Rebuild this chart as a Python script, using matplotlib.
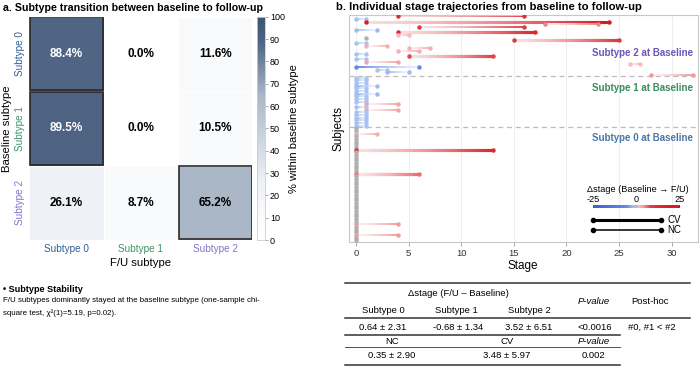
import numpy as np
import matplotlib
matplotlib.use('Agg')
import matplotlib.pyplot as plt
from matplotlib.colors import LinearSegmentedColormap, Normalize
from matplotlib.collections import LineCollection
from matplotlib.lines import Line2D
from matplotlib.patches import Rectangle
import matplotlib.colorbar as mcolorbar

plt.rcParams['font.family'] = ['Liberation Sans', 'DejaVu Sans']
plt.rcParams['axes.unicode_minus'] = False

# ---------------- data ----------------
subtype_labels = ['Subtype 0', 'Subtype 1', 'Subtype 2']
transition_pct = [[88.4, 0.0, 11.6],
                  [89.5, 0.0, 10.5],
                  [26.1, 8.7, 65.2]]
dominant_cells = [(0, 0), (1, 0), (2, 2)]   # (row, col)

# subjects with baseline subtype 2 (top block)
s2_base = [4, 1, 1, 18, 6, 2, 4, 4, 1, 15, 1, 1, 5, 4, 1, 5, 1, 1, 26, 6, 3, 5, 28]
s2_fu   = [16, 0, 24, 23, 16, 0, 17, 5, 1, 25, 0, 3, 7, 6, 0, 13, 0, 4, 27, 0, 2, 3, 32]
s2_grp  = ['NC', 'NC', 'CV', 'NC', 'NC', 'NC', 'CV', 'NC', 'NC', 'CV', 'NC', 'NC',
           'NC', 'NC', 'NC', 'CV', 'NC', 'NC', 'NC', 'NC', 'NC', 'NC', 'NC']
# subjects with baseline subtype 1
s1_base = [1, 1, 1, 2, 1, 1, 2, 1, 1, 1, 1, 1, 1, 1, 1, 1, 1, 1, 1]
s1_fu   = [0, 0, 0, 0, 0, 0, 0, 0, 0, 0, 4, 0, 4, 0, 0, 0, 0, 0, 0]
s1_grp  = ['NC'] * 19
# subjects with baseline subtype 0
s0_base = [0] * 43
s0_fu   = [0, 0, 2, 0, 0, 0, 0, 0, 13, 0, 0, 0, 0, 0, 0, 0, 0, 6, 0, 0,
           0, 0, 0, 0, 0, 0, 0, 0, 0, 0, 0, 0, 0, 0, 0, 0, 4, 0, 0, 0,
           4, 0, 0]
s0_grp  = ['NC'] * 8 + ['CV'] + ['NC'] * 8 + ['CV'] + ['NC'] * 25

stage_ticks = [0, 5, 10, 15, 20, 25, 30]

table_head = ['Subtype 0', 'Subtype 1', 'Subtype 2']
table_vals = ['0.64 ± 2.31', '-0.68 ± 1.34', '3.52 ± 6.51', '<0.0016', '#0, #1 < #2']
table2_head = ['NC', 'CV']
table2_vals = ['0.35 ± 2.90', '3.48 ± 5.97', '0.002']

# ---------------- figure ----------------
W, H = 700, 376
fig = plt.figure(figsize=(7, 3.76), dpi=100)


def fx(x):
    return x / W


def fy(y):
    return 1 - y / H


def add_axes_px(x0, y0, x1, y1):
    return fig.add_axes([fx(x0), fy(y1), fx(x1) - fx(x0), fy(y0) - fy(y1)])


sub_colors = ['#2f5f9a', '#3c9467', '#8672c9']

# ---------------- panel a ----------------
heat_cmap = LinearSegmentedColormap.from_list(
    'heat', [(0.0, '#ffffff'), (0.26, '#eef1f5'), (0.65, '#a9b7c7'),
             (0.884, '#4f6583'), (1.0, '#3c5272')])
ax_a = add_axes_px(29.3, 16.7, 252.3, 240)
vals = np.array(transition_pct)
mesh = ax_a.pcolormesh(np.arange(4), np.arange(4), vals, cmap=heat_cmap,
                       vmin=0, vmax=100, edgecolors='white', linewidth=0.6)
ax_a.set_xlim(0, 3)
ax_a.set_ylim(3, 0)
for i in range(3):
    for j in range(3):
        v = vals[i, j]
        ax_a.text(j + 0.5, i + 0.5, f'{v:.1f}%', ha='center', va='center',
                  fontsize=8.5, fontweight='bold',
                  color='white' if v > 70 else 'black')
for (r, c) in dominant_cells:
    ax_a.add_patch(Rectangle((c + 0.01, r + 0.01), 0.98, 0.98, fill=False,
                             ec='#2a2a2a', lw=1.2, zorder=5))
for s in ax_a.spines.values():
    s.set_visible(False)
ax_a.set_xticks([0.5, 1.5, 2.5])
ax_a.set_xticklabels(subtype_labels, fontsize=7.2)
ax_a.set_yticks([0.5, 1.5, 2.5])
ax_a.set_yticklabels(subtype_labels, fontsize=7.2, rotation=90, va='center')
for t, c in zip(ax_a.get_xticklabels(), sub_colors):
    t.set_color(c)
for t, c in zip(ax_a.get_yticklabels(), sub_colors):
    t.set_color(c)
ax_a.tick_params(length=0, pad=3)
ax_a.set_xlabel('F/U subtype', fontsize=8.2, labelpad=3)
ax_a.set_ylabel('Baseline subtype', fontsize=8.2, labelpad=2)

cax = add_axes_px(256.7, 16.7, 265, 240)
cb = fig.colorbar(mesh, cax=cax, ticks=range(0, 101, 10))
cb.outline.set_edgecolor('#cccccc')
cb.outline.set_linewidth(0.6)
cax.tick_params(labelsize=6.5, length=2, width=0.5, color='#888888', pad=1.5)
cb.set_label('% within baseline subtype', fontsize=8, labelpad=3)

fig.text(fx(3), fy(8), 'a. Subtype transition between baseline to follow-up',
         fontsize=7.7, fontweight='bold', ha='left', va='center')

fig.text(fx(3), fy(290), '• Subtype Stability', fontsize=6.6, fontweight='bold',
         ha='left', va='center')
fig.text(fx(3), fy(301), 'F/U subtypes dominantly stayed at the baseline subtype (one-sample chi-',
         fontsize=5.65, ha='left', va='center')
fig.text(fx(3), fy(313), 'square test, χ²(1)=5.19, p=0.02).',
         fontsize=5.65, ha='left', va='center')

# ---------------- panel b ----------------
delta_cmap = LinearSegmentedColormap.from_list(
    'delta', [(0.0, '#3a5fd4'), (0.38, '#5f8ae6'), (0.46, '#9dbcf2'),
              (0.48, '#a8c4f3'), (0.5, '#b5b5b5'), (0.52, '#f7bcc0'),
              (0.58, '#f29aa0'), (0.62, '#ec6d74'), (0.66, '#e2434b'),
              (0.76, '#dc2830'), (1.0, '#d41820')])
dnorm = Normalize(vmin=-25, vmax=25)

ax_b = add_axes_px(348.5, 15, 698, 241.7)
base_all = s2_base + s1_base + s0_base
fu_all = s2_fu + s1_fu + s0_fu
grp_all = s2_grp + s1_grp + s0_grp
rows = np.arange(len(base_all))

white = np.array([1.0, 1.0, 1.0])
for y, b, f, g in zip(rows, base_all, fu_all, grp_all):
    d = f - b
    col = np.array(delta_cmap(dnorm(d)))
    if d == 0:
        ax_b.plot([b], [y], 'o', ms=3.2, color='#b0b0b0', mec='none', zorder=3)
        continue
    n = 60
    xs = np.linspace(b, f, n + 1)
    segs = [[(xs[k], y), (xs[k + 1], y)] for k in range(n)]
    t = np.linspace(0, 1, n)
    a = 0.15 + 0.85 * t ** 1.4
    rgb = white[None, :] * (1 - a[:, None]) + col[None, :3] * a[:, None]
    rgba = np.column_stack([rgb, np.ones(n)])
    lw = 2.2 if g == 'CV' else 1.1
    ax_b.add_collection(LineCollection(segs, colors=rgba, linewidths=lw,
                                       capstyle='projecting', zorder=2))
    ax_b.plot([b, f], [y, y], 'o', ms=3.2, color=col, mec='none', zorder=3)

n2, n1 = len(s2_base), len(s1_base)
ax_b.axhline(n2 - 0.5, ls=(0, (4, 3)), color='#bbbbbb', lw=0.9, zorder=1)
ax_b.axhline(n2 + n1 - 0.5, ls=(0, (4, 3)), color='#bbbbbb', lw=0.9, zorder=1)

ax_b.set_xlim(-0.7, 32.5)
ax_b.set_ylim(len(base_all) - 0.5, -0.5)
ax_b.set_xticks(stage_ticks)
ax_b.tick_params(axis='x', labelsize=6.8, length=3, width=0.6, color='#999999',
                 pad=2, labelcolor='#333333')
ax_b.set_yticks([])
ax_b.grid(axis='x', color='#ececec', lw=0.6, zorder=0)
ax_b.set_axisbelow(True)
for s in ax_b.spines.values():
    s.set_color('#c8c8c8')
    s.set_linewidth(0.8)
ax_b.set_xlabel('Stage', fontsize=8.5, labelpad=2)
ax_b.set_ylabel('Subjects', fontsize=8.5, labelpad=3)

ann_colors = ['#6c55b8', '#3a8c62', '#4a78a8']
ann_y = [13.7, 26.8, 45.6]
for txt, c, yy in zip(['Subtype 2 at Baseline', 'Subtype 1 at Baseline',
                       'Subtype 0 at Baseline'], ann_colors, ann_y):
    ax_b.text(0.986, yy, txt, transform=ax_b.get_yaxis_transform(),
              ha='right', va='center', fontsize=7, fontweight='bold', color=c)

fig.text(fx(638), fy(190), 'Δstage (Baseline → F/U)', ha='center', va='center',
         fontsize=6.6)
cax2 = add_axes_px(593, 205.3, 680, 207.8)
cb2 = mcolorbar.ColorbarBase(cax2, cmap=delta_cmap, norm=dnorm,
                             orientation='horizontal', ticks=[-25, 0, 25])
cb2.outline.set_visible(False)
cax2.xaxis.set_ticks_position('top')
cax2.tick_params(length=0, labelsize=6.6, pad=1)

for yy, lw, lab in [(220, 2.2, 'CV'), (230, 1.1, 'NC')]:
    fig.add_artist(Line2D([fx(593), fx(661)], [fy(yy), fy(yy)], lw=lw,
                          color='black', marker='o', ms=3, transform=fig.transFigure))
    fig.text(fx(667), fy(yy), lab, fontsize=7, ha='left', va='center')

fig.text(fx(336), fy(7), 'b. Individual stage trajectories from baseline to follow-up',
         fontsize=8.1, fontweight='bold', ha='left', va='center')

# ---------------- table ----------------
def hline(y, x0, x1, lw):
    fig.add_artist(Line2D([fx(x0), fx(x1)], [fy(y), fy(y)], lw=lw,
                          color='#333333', transform=fig.transFigure))


hline(283, 345, 690, 1.1)
hline(318.3, 345, 690, 1.1)
hline(335, 345, 620, 1.1)
hline(347.3, 345, 620, 0.6)
hline(365, 345, 620, 1.1)

tfs = 6.8
fig.text(fx(458), fy(294), 'Δstage (F/U – Baseline)', ha='center', va='center', fontsize=tfs)
for xx, txt in zip([383, 456, 529], table_head):
    fig.text(fx(xx), fy(310.7), txt, ha='center', va='center', fontsize=tfs)
fig.text(fx(594), fy(301.5), 'P-value', ha='center', va='center', fontsize=tfs, style='italic')
fig.text(fx(650), fy(301.5), 'Post-hoc', ha='center', va='center', fontsize=tfs)
for xx, txt in zip([383, 458, 529, 595, 652], table_vals):
    fig.text(fx(xx), fy(327.3), txt, ha='center', va='center', fontsize=tfs)
for xx, txt in zip([392, 507], table2_head):
    fig.text(fx(xx), fy(341.3), txt, ha='center', va='center', fontsize=tfs)
fig.text(fx(594), fy(341.3), 'P-value', ha='center', va='center', fontsize=tfs, style='italic')
for xx, txt in zip([392, 507, 594], table2_vals):
    fig.text(fx(xx), fy(356), txt, ha='center', va='center', fontsize=tfs)

fig.savefig('out.png', dpi=100)
